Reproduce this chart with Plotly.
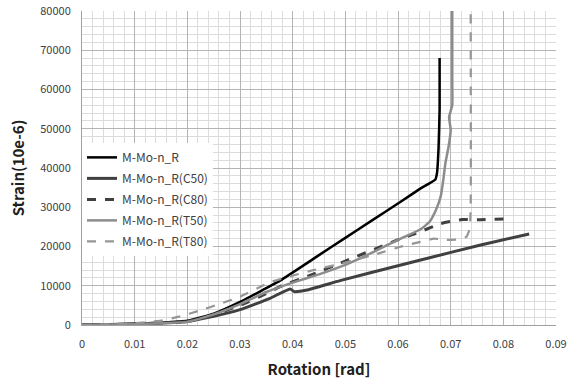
import plotly.graph_objects as go

# M-Mo-n_R
rot_base = [0, 0.005, 0.01, 0.015, 0.02, 0.025, 0.030, 0.0376, 0.045, 0.05, 0.055, 0.0605, 0.0643, 0.0671, 0.0674, 0.0677, 0.0679, 0.0679]
str_base = [0, 100, 300, 600, 1100, 2900, 5900, 11300, 17800, 22200, 26600, 31400, 34800, 37100, 38650, 45000, 55000, 68000]

# M-Mo-n_R(C50)
rot_c50 = [0, 0.005, 0.01, 0.015, 0.02, 0.025, 0.03, 0.0357, 0.0395, 0.0403, 0.0427, 0.049, 0.0598, 0.0643, 0.0757, 0.0849]
str_c50 = [0, 100, 300, 500, 900, 2200, 3900, 6800, 9200, 8500, 8900, 11300, 15030, 16560, 20400, 23200]

# M-Mo-n_R(C80)
rot_c80 = [0, 0.005, 0.01, 0.015, 0.02, 0.025, 0.03, 0.035, 0.0376, 0.044, 0.05, 0.0598, 0.0643, 0.068, 0.0722, 0.075, 0.0814]
str_c80 = [0, 100, 300, 500, 900, 2600, 5000, 8000, 9800, 13000, 16300, 21600, 23800, 25800, 26900, 26800, 27100]

# M-Mo-n_R(T50)
rot_t50 = [0, 0.005, 0.01, 0.015, 0.02, 0.025, 0.03, 0.035, 0.04, 0.045, 0.05, 0.055, 0.0605, 0.0643, 0.0660, 0.0672, 0.0681, 0.0686, 0.069, 0.0696, 0.07, 0.0697, 0.0703, 0.0703, 0.0703]
str_t50 = [0, 100, 250, 450, 800, 2700, 5300, 8400, 10800, 12900, 15300, 18400, 22000, 24400, 26300, 29300, 32700, 36950, 41250, 45400, 49700, 53000, 56000, 62000, 80000]

# M-Mo-n_R(T80)
rot_t80 = [0, 0.005, 0.01, 0.015, 0.0186, 0.0224, 0.0262, 0.03, 0.0357, 0.044, 0.05, 0.0565, 0.0605, 0.0643, 0.0668, 0.069, 0.0715, 0.073, 0.0736, 0.0738, 0.0738]
str_t80 = [0, 150, 450, 1100, 2200, 3700, 5400, 7200, 10900, 14000, 15900, 18300, 19950, 21200, 22000, 21700, 21800, 22500, 24500, 30000, 80000]

names = ["M-Mo-n_R", "M-Mo-n_R(C50)", "M-Mo-n_R(C80)", "M-Mo-n_R(T50)", "M-Mo-n_R(T80)"]
xs = [rot_base, rot_c50, rot_c80, rot_t50, rot_t80]
ys = [str_base, str_c50, str_c80, str_t50, str_t80]
colors = ["#000000", "#404040", "#404040", "#8c8c8c", "#969696"]
widths = [2.5, 3, 3, 2.5, 2.2]
dashes = ["solid", "solid", "dash", "solid", "dash"]

fig = go.Figure()
for n, x, y, c, w, d in zip(names, xs, ys, colors, widths, dashes):
    fig.add_trace(go.Scatter(x=x, y=y, mode="lines", name=n, legendgroup=n,
                             line=dict(color=c, width=w, dash=d, shape="spline", smoothing=0.4)))

font = "Noto Sans CJK KR"
fig.update_layout(
    width=576, height=383,
    margin=dict(l=82, r=20, t=11, b=58),
    paper_bgcolor="white", plot_bgcolor="white",
    font=dict(family=font, size=11, color="#404040"),
    showlegend=True,
    legend=dict(x=0, y=0.58, xanchor="left", yanchor="top",
                bgcolor="white", font=dict(size=12, color="#404040"),
                tracegroupgap=2),
    xaxis=dict(range=[0, 0.09], dtick=0.01, tick0=0, automargin=False,
               showgrid=True, gridcolor="#b4b4b4", gridwidth=1,
               minor=dict(dtick=0.002, showgrid=True, gridcolor="#dcdcdc", gridwidth=1),
               showline=True, linecolor="#a0a0a0", zeroline=False,
               ticks="", ticklabelstandoff=9, tickfont=dict(size=11, color="#404040"),
               title=dict(text="<b>Rotation [rad]</b>", font=dict(size=15, color="#202020"), standoff=14)),
    yaxis=dict(range=[0, 80000], dtick=10000, tick0=0, tickformat="d", automargin=False,
               showgrid=True, gridcolor="#b4b4b4", gridwidth=1,
               minor=dict(dtick=2000, showgrid=True, gridcolor="#dcdcdc", gridwidth=1),
               showline=True, linecolor="#a0a0a0", zeroline=False,
               ticks="", ticklabelstandoff=8, tickfont=dict(size=11, color="#404040"),
               title=dict(text="<b>Strain(10e-6)</b>", font=dict(size=15, color="#202020"), standoff=12)),
)

fig.write_html("out.html", config={"displayModeBar": False},
               post_script="document.body.style.margin='0';document.body.style.overflow='hidden';")
